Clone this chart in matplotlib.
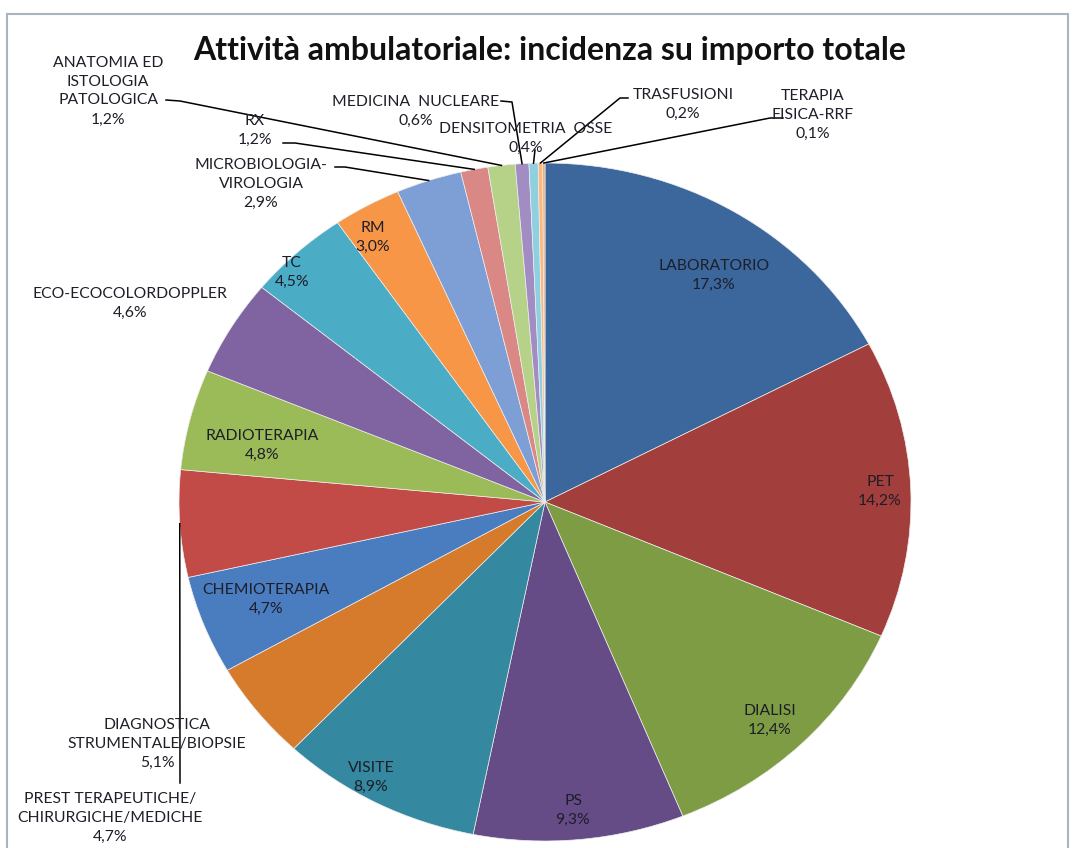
import numpy as np
import matplotlib
matplotlib.use("Agg")
import matplotlib.pyplot as plt
from matplotlib.patches import Rectangle

plt.rcParams["font.family"] = ["Lato", "DejaVu Sans"]

categories = [
    "LABORATORIO", "PET", "DIALISI", "PS", "VISITE",
    "PREST TERAPEUTICHE/\nCHIRURGICHE/MEDICHE", "CHEMIOTERAPIA",
    "DIAGNOSTICA\nSTRUMENTALE/BIOPSIE", "RADIOTERAPIA", "ECO-ECOCOLORDOPPLER",
    "TC", "RM", "MICROBIOLOGIA-\nVIROLOGIA", "RX",
    "ANATOMIA ED\nISTOLOGIA\nPATOLOGICA", "MEDICINA  NUCLEARE",
    "DENSITOMETRIA  OSSE", "TRASFUSIONI", "TERAPIA\nFISICA-RRF",
]
shares = [17.3, 14.2, 12.4, 9.3, 8.9, 4.7, 4.7, 5.1, 4.8, 4.6,
          4.5, 3.0, 2.9, 1.2, 1.2, 0.6, 0.4, 0.2, 0.1]
colors = ["#3B679C", "#A23E3B", "#7E9C44", "#654C86", "#34889F", "#D67A2C",
          "#4A7CC0", "#C24A47", "#9BBB59", "#8064A2", "#4BACC6", "#F79646",
          "#7E9ED6", "#D98885", "#B5D288", "#A28DC2", "#8ECFE0", "#FBB97F",
          "#F4A86A"]

# label placement (reference pixel coords) and optional leader start / elbow
label_pos = [(714, 275), (880, 491), (770, 720), (573, 810), (371, 777),
             (110, 818), (266, 599), (157, 744), (262, 445), (130, 303),
             (292, 272), (373, 237), (261, 184), (255, 130), (108, 91),
             (416, 111), (526, 138), (683, 104), (813, 115)]
leaders = {
    7: [(180, 783)],
    12: [(335, 167), (345, 167)],
    13: [(283, 143), (295, 143)],
    14: [(166, 100), (180, 101)],
    15: [(501, 101), (512, 102)],
    16: [(535, 150)],
    17: [(628, 98), (620, 98)],
    18: [(783, 118), (770, 118)],
}

W, H = 1073, 848
cx, cy, rx, ry = 545, 502, 366, 339
k = rx / ry


def P(px, py):
    return px, (H - py) * k


fig = plt.figure(figsize=(W / 100, H / 100), dpi=100)
ax = fig.add_axes([0, 0, 1, 1])

ax.pie(shares, colors=colors, startangle=90, counterclock=False,
       center=P(cx, cy), radius=rx,
       wedgeprops=dict(edgecolor="#eeeeee", linewidth=0.5))
ax.set_aspect("auto")
ax.set_xlim(0, W)
ax.set_ylim(0, H * k)
ax.axis("off")

total = sum(shares)
cum = np.cumsum([0] + shares)
for i, (name, v) in enumerate(zip(categories, shares)):
    lx, ly = label_pos[i]
    txt = f"{name}\n{v:.1f}%".replace(".", ",")
    ax.text(*P(lx, ly), txt, ha="center", va="center", fontsize=11.3,
            color="#1e1e28", linespacing=1.45)
    if i in leaders:
        mid = (cum[i] + cum[i + 1]) / 2 / total * 2 * np.pi
        ex = cx + rx * np.sin(mid)
        ey = cy - ry * np.cos(mid)
        pts = leaders[i] + [(ex, ey)]
        xs, ys = zip(*[P(a, b) for a, b in pts])
        ax.plot(xs, ys, color="black", lw=1.1)

ax.text(*P(550, 50), "Attività ambulatoriale: incidenza su importo totale",
        ha="center", va="center", fontsize=23, fontweight="bold",
        color="#111111")

fig.patches.append(Rectangle((7 / W, -0.05), 1061 / W, (H - 14) / H + 0.05,
                             transform=fig.transFigure, fill=False,
                             edgecolor="#A9B5C3", lw=1.5))

fig.savefig("out.png", dpi=100)
